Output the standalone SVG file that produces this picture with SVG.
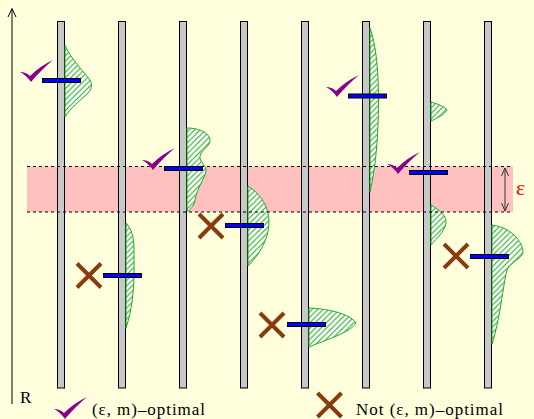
<svg xmlns="http://www.w3.org/2000/svg" xmlns:xlink="http://www.w3.org/1999/xlink" width="534" height="419" viewBox="0 0 534 419">
<style>
.bar{fill:#c8c8c8;stroke:#000;stroke-width:1}
.dist{fill:url(#hatch);stroke:#22aa22;stroke-width:1}
.mk{fill:#0000ff;stroke:#000;stroke-width:1}
.x{stroke:#8a3b0e;stroke-width:4;fill:none}
.chk{fill:#8b008b}
.dash{stroke:#000;stroke-width:1;stroke-dasharray:3 3;fill:none}
.lbl{font-family:"Liberation Serif","Times New Roman",serif;font-size:17px;fill:#000}
.ax{stroke:#000;stroke-width:1;fill:none}
</style>
<defs>
<pattern id="hatch" patternUnits="userSpaceOnUse" width="5.5" height="5.5">
<rect width="5.5" height="5.5" fill="#ffffff"/>
<path d="M-1,1 L1,-1 M0,5.5 L5.5,0 M4.5,6.5 L6.5,4.5" stroke="#22aa22" stroke-width="1.1"/>
</pattern>
<path id="check" d="M0,12 Q6,12 10,16 Q20,6 33,0 Q22,9 11,22 Q6,15 0,12 Z"/>
<g id="xm"><path d="M-12,-12 L12,12 M12,-12 L-12,12"/></g>
</defs>
<rect width="534" height="419" fill="#ffffdd"/>
<rect x="27" y="166.5" width="486" height="45.5" fill="#ffc0c0"/>

<g id="col1">
<rect class="bar" x="57.5" y="21.5" width="7" height="366.5"/>
<path class="dist" d="M65,45 C70,58 84,72 90,80 C93,85 91,90 88,93 C80,101 70,108 65,117 Z"/>
</g>
<g id="col2">
<rect class="bar" x="118.5" y="21.5" width="7" height="366.5"/>
<path class="dist" d="M126,223 C131,228 134,236 134,250 L134,272 C134,290 132,310 126,328 Z"/>
</g>
<g id="col3">
<rect class="bar" x="179.5" y="21.5" width="7" height="366.5"/>
<path class="dist" d="M187,128 C198,128 208,132 210,139 C211,146 201,150 200,156 C199,162 207,166 206,171 C205,178 197,188 195,200 C194,206 190,210 187,211 Z"/>
</g>
<g id="col4">
<rect class="bar" x="240.5" y="21.5" width="7" height="366.5"/>
<path class="dist" d="M248,186 C262,195 269,208 269,222 C269,240 258,256 248,266 Z"/>
</g>
<g id="col5">
<rect class="bar" x="301.5" y="21.5" width="7" height="366.5"/>
<path class="dist" d="M309,308 C330,309 350,314 356,323 C350,333 325,340 309,347 Z"/>
</g>
<g id="col6">
<rect class="bar" x="362.5" y="21.5" width="7" height="366.5"/>
<path class="dist" d="M370,28 C376,45 378.5,70 378.5,100 C378.5,140 375,170 370,192 Z"/>
</g>
<g id="col7">
<rect class="bar" x="423.5" y="21.5" width="7" height="366.5"/>
<path class="dist" d="M431,102 C438,104 445,107 447,110 C444,115 437,118 431,121 Z"/>
<path class="dist" d="M431,205 C439,210 446,215 446,222 C446,230 437,238 431,245 Z"/>
</g>
<g id="col8">
<rect class="bar" x="484.5" y="21.5" width="7" height="366.5"/>
<path class="dist" d="M492,225 C508,227 521,238 523,251 C524,258 510,262 507,270 C503,285 500,320 492,344 Z"/>
</g>

<g id="band">
<line class="dash" x1="27" y1="166.5" x2="513" y2="166.5"/>
<line class="dash" x1="27" y1="212" x2="513" y2="212"/>
</g>

<g id="markers">
<rect class="mk" x="42.5" y="78.5" width="38" height="4"/>
<rect class="mk" x="103.5" y="273.5" width="38" height="4"/>
<rect class="mk" x="164.5" y="166.5" width="38" height="4"/>
<rect class="mk" x="225.5" y="223.5" width="38" height="4"/>
<rect class="mk" x="287.5" y="322.5" width="38" height="4"/>
<rect class="mk" x="348.5" y="94" width="38" height="4"/>
<rect class="mk" x="409.5" y="170.5" width="38" height="4"/>
<rect class="mk" x="470.5" y="254.5" width="38" height="4"/>
</g>

<g id="checks" class="chk">
<use xlink:href="#check" x="20" y="60"/>
<use xlink:href="#check" x="142" y="148"/>
<use xlink:href="#check" x="326" y="75"/>
<use xlink:href="#check" x="387" y="152"/>
</g>
<g id="crosses" class="x">
<use xlink:href="#xm" x="89" y="275.5"/>
<use xlink:href="#xm" x="211" y="226"/>
<use xlink:href="#xm" x="272" y="325"/>
<use xlink:href="#xm" x="456" y="256"/>
</g>

<g id="connectors">
<line class="ax" x1="12" y1="9" x2="12" y2="404"/>
<path class="ax" d="M8,17 L12,8.5 L16,17"/>
<g stroke="#333" stroke-width="1" fill="none">
<line x1="505" y1="168" x2="505" y2="211"/>
<path d="M501.5,176 L505,168 L508.5,176"/>
<path d="M501.5,203 L505,211 L508.5,203"/>
</g>
</g>

<g id="labels">
<text class="lbl" x="20" y="403">R</text>
<text x="516" y="195" font-family="Liberation Serif, serif" font-size="22" fill="#ff0000">ε</text>
</g>

<g id="legend">
<use xlink:href="#check" class="chk" x="54" y="397"/>
<text class="lbl" x="92" y="415" textLength="113">(ε, m)–optimal</text>
<use xlink:href="#xm" class="x" x="329.5" y="405"/>
<text class="lbl" x="356" y="415" textLength="147">Not (ε, m)–optimal</text>
</g>
</svg>
